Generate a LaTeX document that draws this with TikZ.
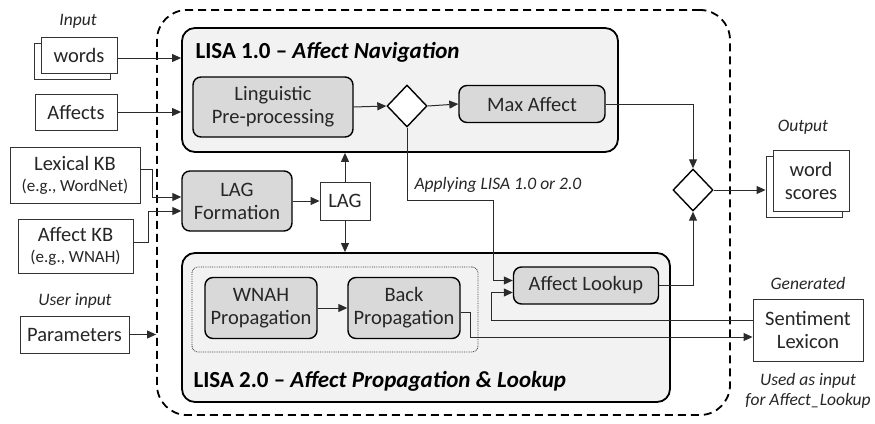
\documentclass[tikz,border=0pt]{standalone}
\usepackage{fontspec}
\setmainfont{Carlito}
\usetikzlibrary{shapes.geometric,shadows,arrows.meta}

\definecolor{txt}{HTML}{262626}
\definecolor{procfill}{HTML}{D9D9D9}
\definecolor{groupfill}{HTML}{F2F2F2}
\definecolor{wire}{HTML}{2B2B2B}

\tikzset{
  plain/.style={draw=black!80, line width=0.9pt, fill=white, align=center,
    text=txt, inner sep=0pt, font=\fontsize{20.5}{23}\selectfont},
  stack/.style={copy shadow={shadow xshift=-7pt, shadow yshift=-6pt,
    draw=black!80, line width=0.9pt, fill=white}},
  proc/.style={draw=black, line width=1.4pt, fill=procfill, rounded corners=8pt,
    align=center, text=txt, inner sep=0pt, font=\fontsize{20.5}{23}\selectfont},
  group/.style={draw=black, line width=1.8pt, fill=groupfill, rounded corners=13pt,
    inner sep=0pt},
  title/.style={anchor=west, text=black, font=\fontsize{23}{26}\selectfont\bfseries},
  gate/.style={diamond, draw=black, line width=1.4pt, fill=white,
    minimum width=40pt, minimum height=42pt, inner sep=0pt},
  note/.style={text=txt, align=center, font=\fontsize{17.5}{20}\selectfont\itshape},
  link/.style={draw=wire, line width=1pt},
  arr/.style={link, -{Triangle[length=9pt,width=8pt]}},
}

\begin{document}
\begin{tikzpicture}[x=1pt,y=-1pt]
\useasboundingbox (0,0) rectangle (875,423);
\fill[white] (0,0) rectangle (875,423);

% dashed system frame
\node[draw=black, line width=1.8pt, dash pattern=on 8pt off 5pt,
      rounded corners=30pt, minimum width=573pt, minimum height=405pt,
      inner sep=0pt] (frame) at (443.5,212.5) {};

% LISA 1.0 group
\node[group, minimum width=436pt, minimum height=124pt] (lisa1) at (400,90) {};
\node[title] (t1) at (192,52) {LISA 1.0 -- \textit{Affect Navigation}};
\node[proc, minimum width=160pt, minimum height=60pt] (prep) at (273,107)
  {Linguistic\\Pre-processing};
\node[gate] (d1) at (407,106) {};
\node[proc, minimum width=146pt, minimum height=37pt] (maxaff) at (532,104)
  {Max Affect};

% LISA 2.0 group
\node[group, minimum width=488pt, minimum height=149pt] (lisa2) at (426,327.5) {};
\node[title] (t2) at (190,381) {LISA 2.0 -- \textit{Affect Propagation \& Lookup}};
\node[draw=black!80, densely dotted, line width=0.8pt, rounded corners=6pt,
      minimum width=286pt, minimum height=85pt, inner sep=0pt] (prop) at (335,309.5) {};
\node[proc, minimum width=112pt, minimum height=61pt] (wnah) at (261,308)
  {WNAH\\Propagation};
\node[proc, minimum width=112pt, minimum height=61pt] (back) at (404,308)
  {Back\\Propagation};
\node[proc, minimum width=145pt, minimum height=37pt] (lookup) at (586,285.5)
  {Affect Lookup};

% LAG construction
\node[proc, minimum width=110pt, minimum height=60pt] (lagf) at (237,201)
  {LAG\\Formation};
\node[plain, minimum width=50pt, minimum height=38pt] (lag) at (345,201) {LAG};

% inputs
\node[note] (lin) at (78,21) {Input};
\node[plain, stack, minimum width=76pt, minimum height=36pt] (words) at (79,55) {words};
\node[plain, minimum width=82pt, minimum height=36pt] (affects) at (76,112) {Affects};
\node[plain, minimum width=130pt, minimum height=56pt] (lexkb) at (75,175)
  {Lexical KB\\[-2pt]{\fontsize{17}{19}\selectfont (e.g., WordNet)}};
\node[plain, minimum width=115pt, minimum height=54pt] (affkb) at (75.5,246)
  {Affect KB\\[-2pt]{\fontsize{17}{19}\selectfont (e.g., WNAH)}};
\node[note] (luser) at (75,301) {User input};
\node[plain, minimum width=109pt, minimum height=37pt] (params) at (74.5,334.5) {Parameters};

% outputs
\node[note] (lout) at (803,127) {Output};
\node[plain, stack, minimum width=76pt, minimum height=61pt] (scores) at (811,180.5)
  {word\\scores};
\node[gate] (d2) at (693,190) {};
\node[note] (lgen) at (808,283) {Generated};
\node[plain, minimum width=110pt, minimum height=62pt] (lex) at (808,330)
  {Sentiment\\Lexicon};
\node[note] (luse) at (808,391) {Used as input\\for Affect\_Lookup};
\node[note] (lapply) at (498,185) {Applying LISA 1.0 or 2.0};

% connectors
\draw[arr] (words.east |- 0,58) -- (lisa1.west |- 0,58);
\draw[arr] (affects.east) -- (affects.east -| lisa1.west);
\draw[arr] (lexkb.east |- 0,169) -- ++(12,0) |- ([yshift=4pt]lagf.west);
\draw[arr] (affkb.east |- 0,242) -- ++(15,0) |- ([yshift=-10pt]lagf.west);
\draw[arr] (params.east) -- (params.east -| frame.west);

\draw[arr] (prep.east) -- (d1.west);
\draw[arr] (d1.east) -- (maxaff.west);
\draw[arr] (maxaff.east) -| (d2.north);
\draw[arr] (lookup.east) -| (d2.south);
\draw[arr] (d2.east) -- ([xshift=-7pt]scores.west |- d2.east);

\draw[arr] (lagf.east) -- (lag.west);
\draw[arr] (lag.north) -- (lag.north |- lisa1.south);
\draw[arr] (lag.south) -- (lag.south |- lisa2.north);

\coordinate (jA) at (493,200);
\coordinate (jB) at (491,320);
\draw[arr] (d1.south) |- (jA) |- ([yshift=5pt]lookup.west);
\draw[arr] (lex.west |- jB) -- (jB) |- ([yshift=-7pt]lookup.west);
\draw[arr] ([yshift=-4pt]back.east) -- ++(10,0) |- ([yshift=-7pt]lex.west);
\draw[arr] (wnah.east) -- (back.west);
\end{tikzpicture}
\end{document}
